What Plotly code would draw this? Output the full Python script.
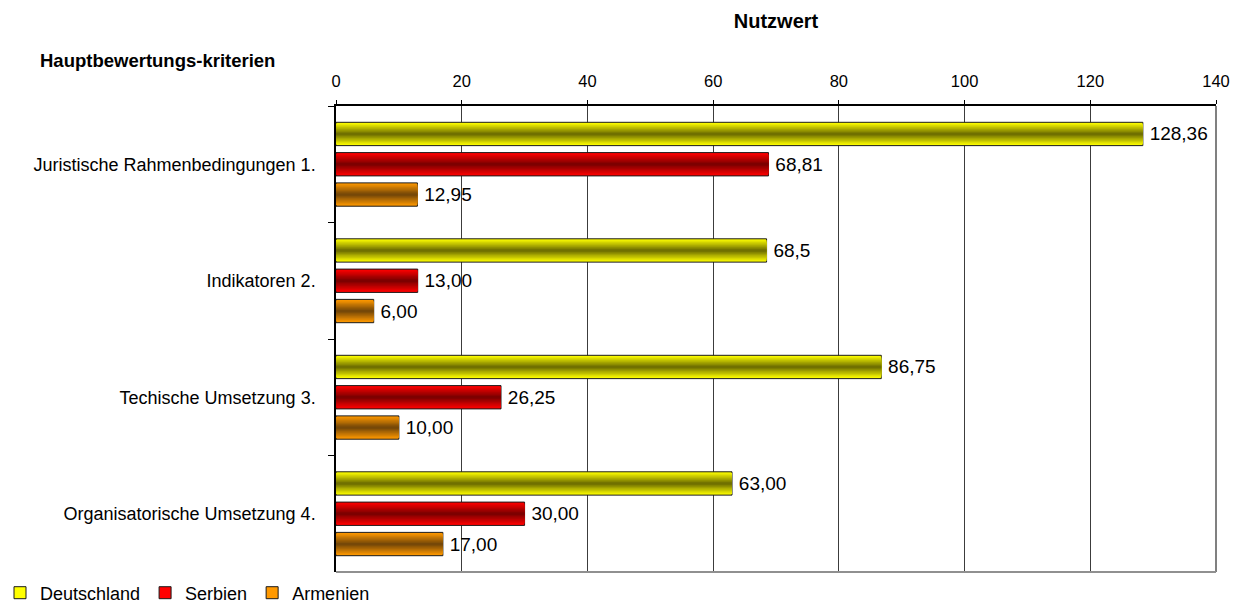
import plotly.graph_objects as go

# Hauptbewertungskriterien (top to bottom)
kriterien = [
    "Juristische Rahmenbedingungen 1.",
    "Indikatoren 2.",
    "Techische Umsetzung 3.",
    "Organisatorische Umsetzung 4.",
]

# Nutzwert per country
deutschland = [128.36, 68.5, 86.75, 63.00]
serbien = [68.81, 13.00, 26.25, 30.00]
armenien = [12.95, 6.00, 10.00, 17.00]

# decimals shown in the value labels
deutschland_dec = [2, 1, 2, 2]
serbien_dec = [2, 2, 2, 2]
armenien_dec = [2, 2, 2, 2]

x_ticks = [0, 20, 40, 60, 80, 100, 120, 140]

FONT = "Liberation Sans, Arial, sans-serif"

series = [
    # name, values, decimals, bright edge colour, dark centre colour, slot centre
    ("Deutschland", deutschland, deutschland_dec, (255, 255, 0), (112, 112, 0), -0.26),
    ("Serbien", serbien, serbien_dec, (255, 0, 0), (125, 0, 0), 0.0),
    ("Armenien", armenien, armenien_dec, (255, 153, 0), (118, 72, 8), 0.26),
]

BAR_W = 0.2
LAYERS = 10


def mix(c1, c2, t):
    r, g, b = (round(a + (b_ - a) * t) for a, b_ in zip(c1, c2))
    return f"rgb({r},{g},{b})"


def fmt(v, d):
    # thin space keeps the label a little off the bar end
    return "\u2009" + f"{v:.{d}f}".replace(".", ",")


fig = go.Figure()

for name, vals, decs, bright, dark, centre in series:
    # cylinder-like shading: nested bars, narrower ones darker toward the centre
    for k in range(LAYERS):
        w = BAR_W * (1 - k / LAYERS)
        t = k / (LAYERS - 1)
        first = k == 0
        fig.add_trace(
            go.Bar(
                y=kriterien,
                x=vals,
                orientation="h",
                name=name,
                legendgroup=name,
                showlegend=first,
                width=w,
                offset=centre - w / 2,
                marker=dict(
                    color=mix(bright, dark, t),
                    line=dict(color="#1a1a1a", width=1 if first else 0),
                ),
                text=[fmt(v, d) for v, d in zip(vals, decs)] if first else None,
                textposition="outside" if first else "none",
                textfont=dict(family=FONT, size=19, color="black"),
                constraintext="none",
                cliponaxis=False,
                hoverinfo="skip" if not first else "x+y+name",
            )
        )

fig.update_layout(
    width=1242,
    height=603,
    barmode="overlay",
    plot_bgcolor="white",
    paper_bgcolor="white",
    margin=dict(l=336, r=26, t=106, b=31, autoexpand=False),
    font=dict(family=FONT, size=18, color="black"),
    title=dict(
        text="<b>Nutzwert</b>",
        x=0.5,
        xref="paper",
        xanchor="center",
        y=1 - 21 / 603,
        yref="container",
        yanchor="middle",
        font=dict(family=FONT, size=20, color="black"),
    ),
    legend=dict(
        orientation="h",
        xref="container",
        yref="container",
        x=0,
        y=10 / 603,
        xanchor="left",
        yanchor="middle",
        font=dict(family=FONT, size=18, color="black"),
        itemclick=False,
        tracegroupgap=0,
    ),
    showlegend=True,
)

fig.update_xaxes(
    side="top",
    range=[0, 140],
    tickvals=x_ticks,
    ticktext=[str(v) for v in x_ticks],
    showgrid=True,
    gridcolor="#3c3c3c",
    gridwidth=1,
    showline=True,
    linecolor="black",
    linewidth=1.5,
    ticks="outside",
    ticklen=4,
    tickcolor="black",
    ticklabelstandoff=7,
    tickfont=dict(family=FONT, size=16.5, color="black"),
    zeroline=False,
)

fig.update_yaxes(
    categoryorder="array",
    categoryarray=kriterien,
    autorange="reversed",
    showline=True,
    linecolor="black",
    linewidth=1.5,
    ticks="outside",
    tickson="boundaries",
    ticklen=6,
    tickcolor="black",
    ticklabelstandoff=15,
    tickfont=dict(family=FONT, size=18, color="black"),
    showgrid=False,
)

# grey frame on the right and bottom of the plot area
fig.add_shape(type="line", xref="paper", yref="paper", x0=1, x1=1, y0=0, y1=1,
              line=dict(color="#808080", width=2))
fig.add_shape(type="line", xref="paper", yref="paper", x0=0, x1=1, y0=0, y1=0,
              line=dict(color="#909090", width=2))

fig.add_annotation(
    text="<b>Hauptbewertungs-kriterien</b>",
    xref="paper",
    yref="paper",
    x=-298 / 880,
    y=(572 - 61) / 466,
    xanchor="left",
    yanchor="middle",
    showarrow=False,
    font=dict(family=FONT, size=18.5, color="black"),
)

fig.write_html("out.html")
